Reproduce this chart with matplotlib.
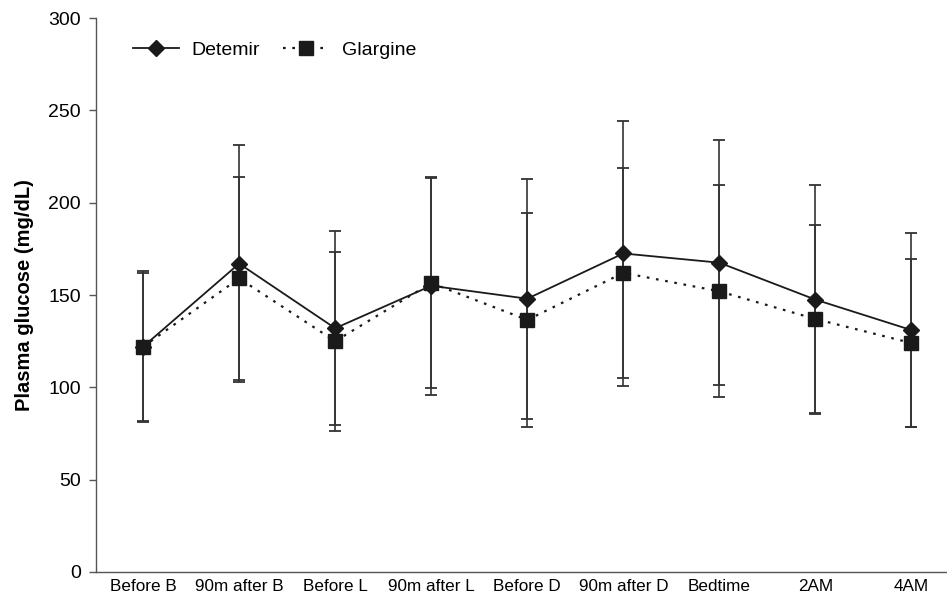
import matplotlib
matplotlib.use("Agg")
import matplotlib.pyplot as plt
import numpy as np

plt.rcParams['font.family'] = ['Liberation Sans', 'DejaVu Sans']

categories = ["Before B", "90m after B", "Before L", "90m after L", "Before D",
              "90m after D", "Bedtime", "2AM", "4AM"]
detemir = [122, 167, 132, 155, 148, 172.5, 167.5, 147.5, 131]
detemir_sd = [41, 64, 52.5, 59, 65, 72, 66.5, 62, 52.5]
glargine = [122, 159, 125, 156.5, 136.5, 162, 152, 137, 124]
glargine_sd = [40, 55, 48.5, 57, 58, 57, 57.5, 51, 45.5]
yticks = [0, 50, 100, 150, 200, 250, 300]

fig = plt.figure(figsize=(9.47, 5.97), dpi=100)
ax = fig.add_axes([0.1014, 0.0419, 0.8986, 0.9279])

x = np.arange(len(categories))
ax.errorbar(x, glargine, yerr=glargine_sd, fmt='none', ecolor='#333333',
            elinewidth=1.2, capsize=4, capthick=1.3, zorder=2)
ax.errorbar(x, detemir, yerr=detemir_sd, fmt='none', ecolor='#333333',
            elinewidth=1.2, capsize=4, capthick=1.3, zorder=2)
ax.plot(x, detemir, color='#1a1a1a', lw=1.3, marker='D', markersize=8,
        markerfacecolor='#1a1a1a', markeredgecolor='#1a1a1a', label='Detemir', zorder=4)
ax.plot(x, glargine, color='#1a1a1a', lw=1.6, linestyle=(0, (1.2, 3)), marker='s',
        markersize=10, markerfacecolor='#1a1a1a', markeredgecolor='#1a1a1a',
        label='Glargine', zorder=3)

ax.set_xlim(-0.49, 8.37)
ax.set_ylim(0, 300)
ax.set_yticks(yticks)
ax.set_yticklabels([str(v) for v in yticks], fontsize=14)
ax.set_xticks(x)
ax.set_xticklabels(categories, fontsize=12.3)
ax.tick_params(axis='x', length=0, pad=5)
ax.tick_params(axis='y', length=5, width=1, color='#555555', pad=6)
for s in ['top', 'right']:
    ax.spines[s].set_visible(False)
for s in ['left', 'bottom']:
    ax.spines[s].set_color('#555555')
    ax.spines[s].set_linewidth(1)
ax.set_ylabel('Plasma glucose (mg/dL)', fontsize=14.5, fontweight='bold', labelpad=10)

ax.legend(loc='upper left', bbox_to_anchor=(0.023, 0.99), ncol=2, frameon=False,
          fontsize=14, handlelength=2.35, columnspacing=1.2, handletextpad=0.65)

fig.savefig('out.png', dpi=100)
